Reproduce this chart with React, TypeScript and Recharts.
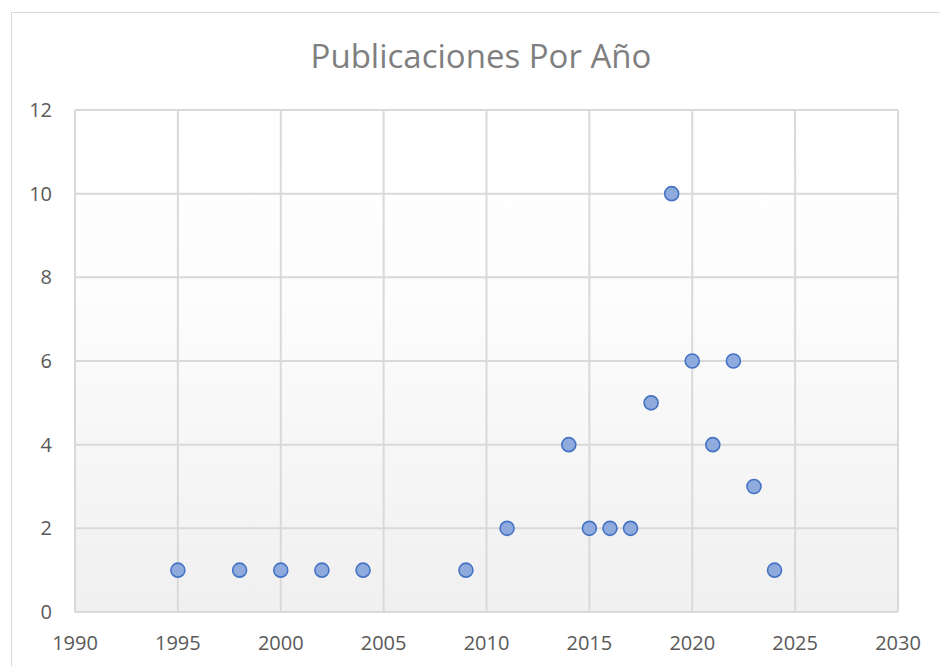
import React from 'react';
import { ScatterChart, Scatter, XAxis, YAxis, CartesianGrid } from 'recharts';

// publicaciones por año
const years = [1995, 1998, 2000, 2002, 2004, 2009, 2011, 2014, 2015, 2016, 2017, 2018, 2019, 2020, 2021, 2022, 2023, 2024];
const counts = [1, 1, 1, 1, 1, 1, 2, 4, 2, 2, 2, 5, 10, 6, 4, 6, 3, 1];

const xTicks = [1990, 1995, 2000, 2005, 2010, 2015, 2020, 2025, 2030];
const yTicks = [0, 2, 4, 6, 8, 10, 12];

const TITLE = 'Publicaciones Por Año';
const FONT = '"Open Sans", sans-serif';
const TEXT_COLOR = '#595959';

const data = years.map((year, i) => ({ year, count: counts[i] }));

const Dot = (props: any) => {
  const { cx, cy } = props;
  if (cx == null || cy == null) return null;
  return <circle cx={cx} cy={cy} r={7} fill="#8faadc" stroke="#4472c4" strokeWidth={1.6} />;
};

export default function App() {
  return (
    <div style={{ position: 'absolute', left: 0, top: 0, width: 940, height: 666, background: '#fff', overflow: 'hidden', fontFamily: FONT }}>
      <div
        style={{
          position: 'absolute',
          left: 11,
          top: 12,
          width: 960,
          height: 700,
          border: '1px solid #d9d9d9',
          boxSizing: 'border-box',
        }}
      />
      <div
        style={{
          position: 'absolute',
          left: 0,
          top: 35,
          width: 962,
          textAlign: 'center',
          fontSize: 33,
          color: '#7f7f7f',
          lineHeight: '42px',
        }}
      >
        {TITLE}
      </div>
      <div style={{ position: 'absolute', left: 0, top: 0 }}>
        <ScatterChart width={940} height={666} margin={{ top: 110, right: 42, bottom: 14, left: 15 }}>
          <defs>
            <linearGradient id="plotBg" x1="0" y1="0" x2="0" y2="1">
              <stop offset="0%" stopColor="#ffffff" />
              <stop offset="35%" stopColor="#fdfdfd" />
              <stop offset="100%" stopColor="#f0f0f0" />
            </linearGradient>
          </defs>
          <CartesianGrid stroke="#d9d9d9" strokeWidth={2} fill="url(#plotBg)" fillOpacity={1} />
          <XAxis
            type="number"
            dataKey="year"
            domain={[1990, 2030]}
            ticks={xTicks}
            interval={0}
            height={40}
            tickLine={false}
            tickSize={0}
            tickMargin={24}
            axisLine={{ stroke: '#d9d9d9', strokeWidth: 2 }}
            tick={{ fill: TEXT_COLOR, fontSize: 20, fontFamily: FONT }}
          />
          <YAxis
            type="number"
            dataKey="count"
            domain={[0, 12]}
            ticks={yTicks}
            interval={0}
            width={60}
            tickLine={false}
            tickSize={0}
            tickMargin={23}
            axisLine={{ stroke: '#d9d9d9', strokeWidth: 2 }}
            tick={{ fill: TEXT_COLOR, fontSize: 20, fontFamily: FONT }}
          />
          <Scatter data={data} shape={<Dot />} isAnimationActive={false} />
        </ScatterChart>
      </div>
    </div>
  );
}
